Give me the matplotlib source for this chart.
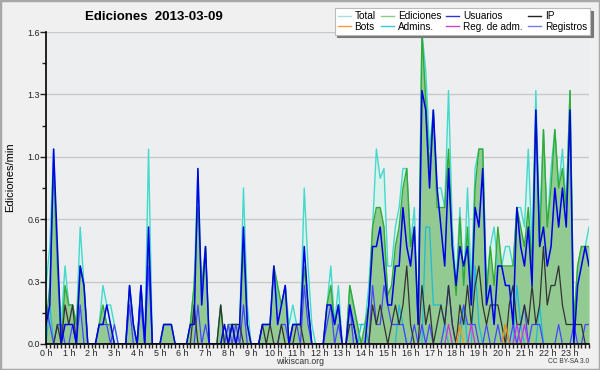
import numpy as np
import matplotlib
matplotlib.use('Agg')
import matplotlib.pyplot as plt
from matplotlib.lines import Line2D
from matplotlib.patches import Rectangle
from matplotlib.ticker import MultipleLocator, FixedLocator, FormatStrFormatter

plt.rcParams['font.family'] = ['Liberation Sans', 'DejaVu Sans']

# edits per minute, one value per 10 minutes (6 per hour, 24 hours)
total = [
    0.3, 0.5, 1.0, 0.4, 0.1, 0.4,   0.2, 0.2, 0.1, 0.6, 0.3, 0.0,
    0.0, 0.0, 0.1, 0.3, 0.2, 0.2,   0.1, 0.0, 0.0, 0.0, 0.3, 0.1,
    0.0, 0.3, 0.0, 1.0, 0.0, 0.0,   0.0, 0.1, 0.1, 0.1, 0.0, 0.0,
    0.0, 0.0, 0.1, 0.3, 0.9, 0.2,   0.5, 0.0, 0.0, 0.0, 0.2, 0.0,
    0.1, 0.1, 0.1, 0.1, 0.8, 0.2,   0.0, 0.0, 0.0, 0.1, 0.1, 0.1,
    0.4, 0.2, 0.2, 0.3, 0.1, 0.2,   0.1, 0.1, 0.8, 0.4, 0.1, 0.0,
    0.0, 0.0, 0.2, 0.4, 0.1, 0.3,   0.0, 0.0, 0.3, 0.2, 0.1, 0.1,
    0.1, 0.3, 0.6, 1.0, 0.85, 0.9,  0.4, 0.4, 0.6, 0.7, 0.9, 0.9,
    0.5, 0.7, 0.1, 1.6, 1.4, 1.0,   1.2, 0.8, 0.8, 0.7, 1.3, 0.6,
    0.3, 0.7, 0.3, 0.8, 0.3, 0.9,   1.0, 1.0, 0.3, 0.5, 0.6, 0.4,
    0.4, 0.5, 0.5, 0.4, 0.7, 0.7,   0.6, 1.0, 0.5, 1.3, 0.6, 1.1,
    0.6, 0.9, 1.1, 0.8, 1.0, 0.7,   1.3, 0.1, 0.4, 0.5, 0.5, 0.6,
]
ediciones = [
    0.1, 0.3, 0.9, 0.4, 0.0, 0.3,   0.2, 0.2, 0.1, 0.4, 0.3, 0.0,
    0.0, 0.0, 0.1, 0.2, 0.1, 0.1,   0.0, 0.0, 0.0, 0.0, 0.3, 0.1,
    0.0, 0.3, 0.0, 0.5, 0.0, 0.0,   0.0, 0.1, 0.1, 0.1, 0.0, 0.0,
    0.0, 0.0, 0.1, 0.3, 0.7, 0.3,   0.5, 0.0, 0.0, 0.0, 0.2, 0.0,
    0.1, 0.1, 0.1, 0.1, 0.5, 0.1,   0.0, 0.0, 0.0, 0.1, 0.1, 0.1,
    0.4, 0.3, 0.2, 0.3, 0.0, 0.1,   0.1, 0.1, 0.4, 0.2, 0.0, 0.0,
    0.0, 0.0, 0.2, 0.3, 0.1, 0.2,   0.0, 0.0, 0.3, 0.2, 0.1, 0.0,
    0.1, 0.2, 0.6, 0.7, 0.7, 0.6,   0.25, 0.3, 0.5, 0.6, 0.8, 0.9,
    0.5, 0.6, 0.1, 1.6, 1.25, 0.9,  1.2, 0.7, 0.7, 0.7, 1.0, 0.5,
    0.25, 0.65, 0.3, 0.6, 0.2, 0.8, 1.0, 1.0, 0.25, 0.5, 0.3, 0.6,
    0.4, 0.4, 0.4, 0.4, 0.7, 0.6,   0.5, 0.7, 0.4, 1.2, 0.5, 1.1,
    0.6, 0.8, 1.1, 0.8, 0.9, 0.7,   1.3, 0.1, 0.4, 0.5, 0.5, 0.5,
]
usuarios = [
    0.1, 0.2, 1.0, 0.5, 0.0, 0.1,   0.1, 0.1, 0.0, 0.4, 0.3, 0.0,
    0.0, 0.0, 0.1, 0.1, 0.2, 0.1,   0.0, 0.0, 0.0, 0.0, 0.3, 0.1,
    0.0, 0.3, 0.0, 0.6, 0.0, 0.0,   0.0, 0.1, 0.1, 0.1, 0.0, 0.0,
    0.0, 0.0, 0.1, 0.1, 0.9, 0.2,   0.5, 0.0, 0.0, 0.0, 0.0, 0.1,
    0.0, 0.1, 0.0, 0.1, 0.6, 0.1,   0.0, 0.0, 0.0, 0.1, 0.1, 0.1,
    0.4, 0.1, 0.2, 0.3, 0.0, 0.1,   0.1, 0.1, 0.5, 0.2, 0.0, 0.0,
    0.0, 0.0, 0.2, 0.2, 0.1, 0.2,   0.0, 0.0, 0.2, 0.1, 0.0, 0.0,
    0.0, 0.2, 0.5, 0.5, 0.6, 0.4,   0.2, 0.2, 0.4, 0.4, 0.7, 0.5,
    0.4, 0.6, 0.1, 1.3, 1.2, 0.8,   1.2, 0.8, 0.6, 0.4, 0.9, 0.5,
    0.3, 0.5, 0.4, 0.5, 0.2, 0.7,   0.6, 0.9, 0.2, 0.3, 0.1, 0.4,
    0.4, 0.3, 0.3, 0.1, 0.7, 0.5,   0.4, 0.6, 0.3, 1.2, 0.5, 0.6,
    0.4, 0.5, 0.8, 0.6, 0.8, 0.6,   1.2, 0.0, 0.3, 0.4, 0.5, 0.4,
]
ip = [
    0.0, 0.0, 0.0, 0.1, 0.0, 0.2,   0.1, 0.2, 0.0, 0.0, 0.0, 0.0,
    0.0, 0.0, 0.0, 0.0, 0.0, 0.0,   0.0, 0.0, 0.0, 0.0, 0.0, 0.0,
    0.0, 0.0, 0.0, 0.0, 0.0, 0.0,   0.0, 0.0, 0.0, 0.0, 0.0, 0.0,
    0.0, 0.0, 0.0, 0.2, 0.0, 0.0,   0.0, 0.0, 0.0, 0.0, 0.2, 0.0,
    0.0, 0.1, 0.1, 0.1, 0.0, 0.0,   0.0, 0.0, 0.0, 0.1, 0.0, 0.1,
    0.0, 0.0, 0.1, 0.0, 0.0, 0.0,   0.1, 0.1, 0.0, 0.0, 0.0, 0.0,
    0.0, 0.0, 0.0, 0.0, 0.0, 0.0,   0.0, 0.0, 0.1, 0.1, 0.0, 0.0,
    0.0, 0.0, 0.2, 0.1, 0.2, 0.1,   0.0, 0.1, 0.2, 0.1, 0.2, 0.4,
    0.1, 0.0, 0.0, 0.3, 0.1, 0.2,   0.0, 0.1, 0.2, 0.1, 0.3, 0.1,
    0.0, 0.2, 0.1, 0.3, 0.1, 0.3,   0.4, 0.2, 0.1, 0.2, 0.2, 0.2,
    0.1, 0.0, 0.2, 0.3, 0.1, 0.1,   0.2, 0.1, 0.3, 0.1, 0.2, 0.5,
    0.2, 0.3, 0.3, 0.4, 0.2, 0.1,   0.1, 0.1, 0.1, 0.1, 0.0, 0.0,
]
registros = [
    0.2, 0.1, 0.0, 0.1, 0.1, 0.0,   0.0, 0.1, 0.0, 0.2, 0.0, 0.0,
    0.0, 0.0, 0.1, 0.1, 0.1, 0.0,   0.1, 0.0, 0.0, 0.0, 0.2, 0.0,
    0.0, 0.2, 0.0, 0.4, 0.0, 0.0,   0.0, 0.0, 0.0, 0.0, 0.0, 0.0,
    0.0, 0.0, 0.0, 0.0, 0.2, 0.0,   0.1, 0.0, 0.0, 0.0, 0.0, 0.0,
    0.1, 0.0, 0.1, 0.0, 0.2, 0.0,   0.0, 0.0, 0.0, 0.0, 0.0, 0.0,
    0.0, 0.0, 0.1, 0.1, 0.0, 0.1,   0.1, 0.0, 0.3, 0.1, 0.0, 0.0,
    0.0, 0.0, 0.1, 0.2, 0.0, 0.1,   0.0, 0.0, 0.2, 0.0, 0.0, 0.0,
    0.0, 0.0, 0.3, 0.1, 0.1, 0.3,   0.2, 0.1, 0.1, 0.1, 0.1, 0.0,
    0.0, 0.1, 0.0, 0.1, 0.0, 0.1,   0.0, 0.0, 0.0, 0.1, 0.3, 0.1,
    0.0, 0.1, 0.2, 0.1, 0.1, 0.1,   0.0, 0.0, 0.1, 0.0, 0.0, 0.1,
    0.0, 0.1, 0.0, 0.1, 0.0, 0.1,   0.2, 0.0, 0.1, 0.1, 0.1, 0.0,
    0.0, 0.0, 0.0, 0.1, 0.0, 0.0,   0.0, 0.1, 0.0, 0.0, 0.1, 0.1,
]
admins = [
    0.0, 0.2, 0.0, 0.0, 0.0, 0.0,   0.0, 0.0, 0.0, 0.0, 0.0, 0.0,
    0.0, 0.0, 0.0, 0.0, 0.0, 0.0,   0.0, 0.0, 0.0, 0.0, 0.0, 0.0,
    0.0, 0.3, 0.0, 0.0, 0.0, 0.0,   0.0, 0.0, 0.0, 0.0, 0.0, 0.0,
    0.0, 0.0, 0.0, 0.0, 0.0, 0.0,   0.0, 0.0, 0.0, 0.0, 0.0, 0.0,
    0.0, 0.0, 0.0, 0.0, 0.0, 0.0,   0.0, 0.0, 0.0, 0.0, 0.0, 0.0,
    0.0, 0.0, 0.0, 0.0, 0.0, 0.0,   0.0, 0.0, 0.0, 0.0, 0.0, 0.0,
    0.0, 0.0, 0.0, 0.0, 0.0, 0.0,   0.0, 0.0, 0.0, 0.0, 0.0, 0.1,
    0.1, 0.0, 0.0, 0.0, 0.0, 0.0,   0.0, 0.0, 0.0, 0.2, 0.1, 0.0,
    0.0, 0.0, 0.0, 0.0, 0.6, 0.6,   0.2, 0.2, 0.2, 0.1, 0.0, 0.0,
    0.0, 0.0, 0.2, 0.0, 0.0, 0.4,   0.1, 0.0, 0.0, 0.0, 0.0, 0.0,
    0.0, 0.0, 0.0, 0.0, 0.3, 0.1,   0.0, 0.0, 0.0, 0.0, 0.2, 0.0,
    0.0, 0.0, 0.0, 0.0, 0.0, 0.0,   0.0, 0.0, 0.0, 0.0, 0.0, 0.0,
]
bots = [0.0] * 109 + [0.1] + [0.0] * 11 + [0.1] + [0.0] * 22
reg_adm = [0.0] * 106 + [0.1] + [0.0] * 5 + [0.1] + [0.0] * 11 + [0.1, 0.0, 0.1] + [0.0] * 17

hour_labels = [f"{h} h" for h in range(24)]
legend_labels = ["Total", "Bots", "Ediciones", "Admins.", "Usuarios", "Reg. de adm.", "IP", "Registros"]
legend_colors = ["#aadedd", "#ff9a33", "#88cc88", "#33c8dd", "#3333dd", "#cc44cc", "#222222", "#7777ee"]

x = np.arange(len(total)) / 6.0

fig = plt.figure(figsize=(6, 3.7), dpi=100, facecolor='#f0f0f0')
ax = fig.add_axes([0.0767, 0.0703, 0.905, 0.843], facecolor='#edeef0')

ax.fill_between(x, total, color='#d9f3ec', lw=0, zorder=1)
ax.fill_between(x, ediciones, color='#92ca92', lw=0, zorder=2)
ax.plot(x, total, color='#44d9cc', lw=1.0, zorder=3)
ax.plot(x, ediciones, color='#33aa33', lw=1.0, zorder=3)
ax.plot(x, admins, color='#1ebcd8', lw=0.9, zorder=4)
ax.plot(x, registros, color='#4646ff', lw=0.9, zorder=4)
ax.plot(x, ip, color='#333333', lw=0.9, zorder=5)
ax.plot(x, bots, color='#ff9900', lw=0.9, zorder=5)
ax.plot(x, reg_adm, color='#cc33dd', lw=0.9, zorder=5)
ax.plot(x, usuarios, color='#0000e6', lw=1.1, zorder=6)

ax.set_xlim(0, 143 / 6)
ax.set_ylim(0, 1.6)
ax.set_xticks(range(24))
ax.set_xticklabels(hour_labels)
ax.xaxis.set_minor_locator(MultipleLocator(1 / 6))
ax.yaxis.set_major_locator(FixedLocator(np.arange(0, 1.61, 0.32)))
ax.yaxis.set_major_formatter(FormatStrFormatter('%.1f'))
ax.yaxis.set_minor_locator(MultipleLocator(0.16))
ax.tick_params(axis='both', which='both', direction='out', labelsize=6.4, colors='#222222', pad=0.5)
ax.tick_params(axis='x', which='both', length=3, width=1)
ax.tick_params(axis='y', which='major', length=4, width=1)
ax.tick_params(axis='y', which='minor', length=3, width=1)
ax.yaxis.grid(True, color='#c9c9c9', lw=1)
ax.set_axisbelow(True)
for side in ['top', 'right']:
    ax.spines[side].set_visible(False)
for side in ['left', 'bottom']:
    ax.spines[side].set_color('black')
    ax.spines[side].set_linewidth(1.2)
    ax.spines[side].set_zorder(7)

fig.text(0.017, 0.52, 'Ediciones/min', fontsize=8, rotation=90, ha='center', va='center')
fig.text(0.142, 0.955, 'Ediciones  2013-03-09', fontsize=9.5, fontweight='bold', ha='left', va='center')
fig.text(0.5, 0.024, 'wikiscan.org', fontsize=6.2, ha='center', va='center', color='#333333')
fig.text(0.982, 0.022, 'CC BY-SA 3.0', fontsize=4.8, ha='right', va='center', color='#333333')

handles = [Line2D([], [], color=c, lw=1.0) for c in legend_colors]
leg = fig.legend(handles, legend_labels, ncol=4, loc='upper right', bbox_to_anchor=(0.983, 0.978),
                 fontsize=7.2, frameon=True, fancybox=False, shadow={'color': '#777777', 'alpha': 1},
                 edgecolor='#bbbbbb', handlelength=1.3, handletextpad=0.4, columnspacing=0.5,
                 labelspacing=0.05, borderpad=0.3, borderaxespad=0)
leg.get_frame().set_linewidth(0.8)
leg.set_zorder(10)

fig.patches.append(Rectangle((0, 0), 1, 1, transform=fig.transFigure, fill=False,
                             edgecolor='#a8a8a8', lw=2.5))

fig.savefig('out.png', dpi=100, facecolor=fig.get_facecolor())
